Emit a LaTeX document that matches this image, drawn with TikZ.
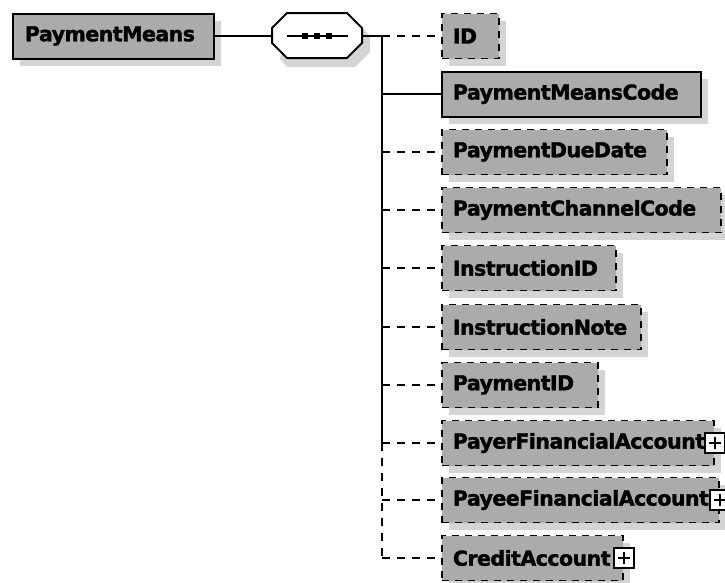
\documentclass[tikz,border=0pt]{standalone}
\usepackage{fontspec}
\setmainfont{DejaVu Sans}
\newfontfamily\lblfont[FakeBold=1.6, LetterSpace=-2.5]{DejaVu Sans Bold}
\begin{document}
\begin{tikzpicture}[x=1pt,y=-1pt,
  boxfill/.style={fill=black!33},
  base/.style={draw=black, boxfill, line width=2pt, minimum height=45pt, inner ysep=0pt,
     inner xsep=11pt, align=left, anchor=west,
     font=\lblfont\fontsize{20.5}{23}\selectfont,
     preaction={fill=black!17, transform canvas={shift={(7pt,-7pt)}}}},
  elem/.style={base},
  opt/.style={base, line width=1.8pt, dash pattern=on 7pt off 6pt},
  conn/.style={line width=2pt},
  dconn/.style={line width=2pt, dash pattern=on 8pt off 7pt},
  plusbox/.style={draw=black, fill=white, line width=1.8pt, minimum size=20pt, inner sep=0pt,
     path picture={
       \draw[line width=1.8pt] ([yshift=-4pt]path picture bounding box.north) -- ([yshift=4pt]path picture bounding box.south);
       \draw[line width=1.8pt] ([xshift=4pt]path picture bounding box.west) -- ([xshift=-4pt]path picture bounding box.east);}}
]
\useasboundingbox (0,0) rectangle (725,582);

% root element
\node[elem, inner xsep=12pt, text width=177pt] (pm) at (12,36) {PaymentMeans};

% sequence compositor
\fill[black!17] (287,21) -- (355,21) -- (370,36) -- (370,52) -- (355,67) -- (287,67) -- (280,59) -- cycle;
\draw[line width=2pt, fill=white] (287,13) -- (347,13) -- (362,28) -- (362,43) -- (347,58) -- (287,58) -- (272,43) -- (272,28) -- cycle;
\coordinate (seqW) at (272,36);
\coordinate (seqE) at (362,36);
\coordinate (inL) at (287,36);
\coordinate (inR) at (348,36);
\draw[line width=2pt] (inL) -- (inR);
\foreach \dx in {305,317,329} \fill (\dx-3,33) rectangle (\dx+3,39);

\coordinate (trunk) at (382,36);

% children
\node[opt,  text width=35pt]  (id)    at (441,36) {ID};
\node[elem, text width=237pt] (pmc)   at (441,94) {PaymentMeansCode};
\node[opt,  text width=203pt] (pdd)   at (441,152) {PaymentDueDate};
\node[opt,  text width=257pt] (pcc)   at (441,210) {PaymentChannelCode};
\node[opt,  text width=152pt] (iid)   at (441,268) {InstructionID};
\node[opt,  text width=177pt] (inote) at (441,327) {InstructionNote};
\node[opt,  text width=134pt] (pid)   at (441,385) {PaymentID};
\node[opt,  text width=250pt] (payer) at (441,443) {PayerFinancialAccount};
\node[opt,  text width=255pt] (payee) at (441,500) {PayeeFinancialAccount};
\node[opt,  text width=159pt] (cred)  at (441,558) {CreditAccount};

\node[plusbox] (payerplus) at (payer.east) {};
\node[plusbox] (payeeplus) at (payee.east) {};
\node[plusbox] (credplus)  at (cred.east) {};

% connectors
\draw[conn] (pm.east) -- (seqW);
\draw[conn] (seqE) -- (trunk);
\draw[conn] (trunk) -- (trunk |- payer.west);
\draw[dconn] (trunk |- payer.west) -- (trunk |- cred.west);
\draw[dconn] (trunk) -- (id.west);
\draw[conn] (trunk |- pmc.west) -- (pmc.west);
\foreach \n in {pdd,pcc,iid,inote,pid,payer,payee,cred}
  \draw[dconn] (trunk |- \n.west) -- (\n.west);
\end{tikzpicture}
\end{document}
